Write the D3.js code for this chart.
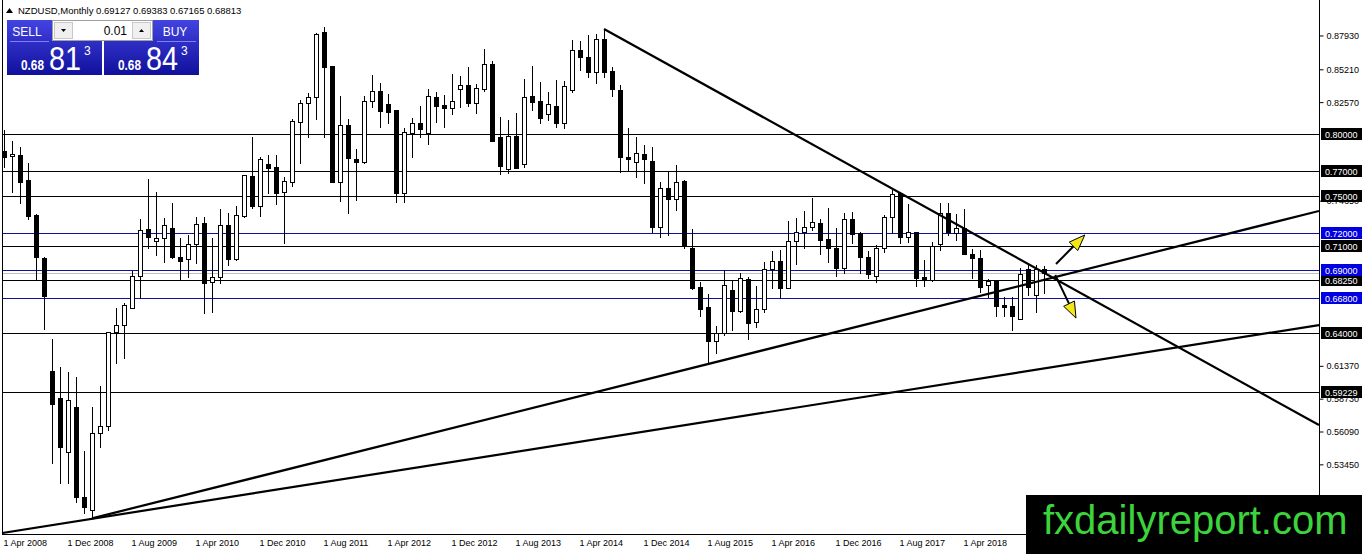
<!DOCTYPE html>
<html>
<head>
<meta charset="utf-8">
<script src="https://cdnjs.cloudflare.com/ajax/libs/d3/7.8.5/d3.min.js"></script>
<style>
body { margin: 0; background: #fff; overflow: hidden; }
svg { display: block; font-family: "Liberation Sans", Arial, sans-serif; }
</style>
</head>
<body>
<svg id="chart" width="1362" height="554"></svg>
<script>
// NZDUSD monthly candles, Apr 2008 .. Feb 2019 (index 0 = Apr 2008)
const opens = [0.7863,0.7820,0.7828,0.7627,0.7346,0.7000,0.6091,0.5877,0.5442,0.5804,
0.5081,0.4974,0.5590,0.5649,0.6407,0.6461,0.6600,0.6855,0.7233,0.7139,
0.7158,0.7239,0.7005,0.6989,0.7110,0.7284,0.6804,0.6845,0.7265,0.6989,
0.7340,0.7659,0.7420,0.7756,0.7734,0.7528,0.7613,0.8096,0.8244,0.8292,
0.8819,0.8546,0.7613,0.8069,0.7796,0.7774,0.8262,0.8342,0.8238,0.8190,
0.7525,0.8002,0.8083,0.8002,0.8292,0.8230,0.8203,0.8356,0.8388,0.8244,
0.8358,0.8557,0.7970,0.7713,0.7983,0.7756,0.8302,0.8262,0.8155,0.8222,
0.8083,0.8350,0.8672,0.8618,0.8498,0.8761,0.8503,0.8350,0.7814,0.7769,
0.7834,0.7780,0.7251,0.7560,0.7472,0.7619,0.7083,0.6769,0.6608,0.6335,
0.6394,0.6743,0.6576,0.6831,0.6488,0.6587,0.6909,0.6976,0.6761,0.7137,
0.7206,0.7247,0.7279,0.7150,0.7078,0.6917,0.7311,0.7198,0.7005,0.6858,
0.7078,0.7327,0.7520,0.7171,0.7211,0.6845,0.6823,0.7110,0.7359,0.7203,
0.7239,0.7032,0.6997,0.6783,0.6817,0.6622,0.6614,0.6507,0.6909,0.6702,
0.69127];

const highs = [0.8029,0.7943,0.7895,0.7766,0.7355,0.7005,0.6349,0.6126,0.6086,0.6041,
0.5448,0.5804,0.5973,0.6407,0.6600,0.6640,0.6898,0.7316,0.7635,0.7533,
0.7319,0.7444,0.7158,0.7185,0.7332,0.7327,0.7158,0.7394,0.7364,0.7418,
0.7667,0.7975,0.7814,0.7828,0.7828,0.7653,0.8117,0.8270,0.8324,0.8806,
0.8855,0.8546,0.8302,0.8115,0.7876,0.8302,0.8471,0.8409,0.8318,0.8190,
0.8047,0.8123,0.8222,0.8358,0.8337,0.8310,0.8479,0.8463,0.8533,0.8399,
0.8680,0.8584,0.8131,0.8109,0.8163,0.8437,0.8543,0.8417,0.8337,0.8431,
0.8423,0.8753,0.8745,0.8793,0.8801,0.8839,0.8538,0.8391,0.8043,0.7975,
0.7908,0.7895,0.7613,0.7694,0.7748,0.7627,0.7231,0.6809,0.6710,0.6453,
0.6903,0.6823,0.6877,0.6849,0.6775,0.6970,0.7058,0.7064,0.7297,0.7319,
0.7378,0.7480,0.7311,0.7399,0.7239,0.7359,0.7372,0.7211,0.7058,0.7104,
0.7346,0.7547,0.7528,0.7434,0.7211,0.6984,0.7131,0.7444,0.7439,0.7354,
0.7391,0.7070,0.7064,0.6829,0.6823,0.6689,0.6689,0.6917,0.6944,0.6944,
0.69383];

const lows = [0.7734,0.7533,0.7444,0.7311,0.6823,0.6429,0.5349,0.5188,0.5193,0.5040,
0.4952,0.4907,0.5483,0.5617,0.6153,0.6193,0.6595,0.6676,0.7078,0.7024,
0.6970,0.6997,0.6823,0.6849,0.6962,0.6555,0.6568,0.6796,0.6944,0.6984,
0.7327,0.7399,0.7340,0.7520,0.7432,0.7118,0.7581,0.7761,0.7975,0.8115,
0.7970,0.7608,0.7458,0.7364,0.7466,0.7761,0.8211,0.8055,0.8088,0.7452,
0.7452,0.7809,0.7970,0.7914,0.8096,0.8051,0.8155,0.8211,0.8224,0.8163,
0.8345,0.7940,0.7675,0.7686,0.7721,0.7734,0.8190,0.8083,0.8109,0.8055,
0.8047,0.8337,0.8511,0.8453,0.8404,0.8457,0.8302,0.7694,0.7707,0.7653,
0.7605,0.7211,0.7171,0.7185,0.7386,0.7078,0.6748,0.6531,0.6153,0.6233,
0.6381,0.6421,0.6568,0.6346,0.6443,0.6568,0.6756,0.6676,0.6756,0.6949,
0.7078,0.7225,0.7032,0.6970,0.6855,0.6882,0.7123,0.6882,0.6837,0.6809,
0.7050,0.7198,0.7123,0.7131,0.6775,0.6775,0.6817,0.7064,0.7185,0.7145,
0.7030,0.6841,0.6729,0.6684,0.6533,0.6531,0.6421,0.6507,0.6700,0.6568,
0.67165];

const closes = [0.7814,0.7836,0.7613,0.7340,0.7005,0.6697,0.5824,0.5483,0.5858,0.5081,
0.5000,0.5590,0.5649,0.6407,0.6461,0.6622,0.6855,0.7225,0.7171,0.7163,
0.7263,0.7010,0.6978,0.7110,0.7273,0.6801,0.6845,0.7265,0.6989,0.7346,
0.7667,0.7420,0.7796,0.7726,0.7525,0.7619,0.8104,0.8244,0.8292,0.8801,
0.8538,0.7608,0.8067,0.7801,0.7774,0.8262,0.8342,0.8184,0.8176,0.7525,
0.8010,0.8083,0.8035,0.8302,0.8224,0.8203,0.8262,0.8388,0.8244,0.8364,
0.8557,0.7940,0.7740,0.7983,0.7721,0.8297,0.8256,0.8128,0.8236,0.8083,
0.8383,0.8672,0.8613,0.8498,0.8761,0.8498,0.8356,0.7809,0.7793,0.7842,
0.7793,0.7251,0.7560,0.7472,0.7613,0.7099,0.6761,0.6587,0.6335,0.6394,
0.6780,0.6576,0.6836,0.6480,0.6587,0.6909,0.6976,0.6761,0.7137,0.7206,
0.7247,0.7287,0.7145,0.7083,0.6917,0.7311,0.7191,0.7010,0.6869,0.7078,
0.7327,0.7514,0.7171,0.7211,0.6841,0.6823,0.7096,0.7359,0.7211,0.7239,
0.7030,0.6997,0.6764,0.6815,0.6616,0.6608,0.6531,0.6869,0.6770,0.6909,
0.68813];

const xTickIdx = [0, 8, 16, 24, 32, 40, 48, 56, 64, 72, 80, 88, 96, 104, 112, 120];
const xTickLabels = ["1 Apr 2008", "1 Dec 2008", "1 Aug 2009", "1 Apr 2010", "1 Dec 2010",
    "1 Aug 2011", "1 Apr 2012", "1 Dec 2012", "1 Aug 2013", "1 Apr 2014", "1 Dec 2014",
    "1 Aug 2015", "1 Apr 2016", "1 Dec 2016", "1 Aug 2017", "1 Apr 2018"];

const yTicks = [0.87930, 0.85210, 0.82570, 0.74650, 0.61370, 0.58730, 0.56090, 0.53450, 0.50810];

const blackLevels = [0.80000, 0.77000, 0.75000, 0.71000, 0.68250, 0.64000, 0.59229];
const blueLevels = [0.72000, 0.69000, 0.66800];

// trend lines as [candle index, price] pairs
const trendDown = [[75, 0.8841], [164.375, 0.5657]];
const trendUp = [[11, 0.4907], [164.375, 0.7378]];
const trendLow = [[-0.25, 0.4789], [164.375, 0.6461]];
const arrowUp = [[131.5, 0.6952], [135.1, 0.7185]];
const arrowDown = [[131.4, 0.6863], [134.0, 0.6517]];

const symbol = "NZDUSD,Monthly";
const lotSize = "0.01";
const sellQuote = ["0.68", "81", "3"];
const buyQuote = ["0.68", "84", "3"];

const plot = { left: 2, right: 1319, top: 0, bottom: 534 };

const svg = d3.select("#chart");

const x = d3.scaleLinear().domain([-0.25, 164.375]).range([plot.left, plot.right]);
const y = d3.scaleLinear().domain([0.4781, 0.9058]).range([plot.bottom, 2]);

const defs = svg.append("defs");
defs.append("clipPath").attr("id", "plotclip")
    .append("rect")
    .attr("x", plot.left).attr("y", plot.top)
    .attr("width", plot.right - plot.left).attr("height", plot.bottom - plot.top);

const px = v => Math.round(y(v)) + 0.5;

// horizontal levels
const levelG = svg.append("g").attr("clip-path", "url(#plotclip)");
blackLevels.forEach(v => {
    levelG.append("line")
        .attr("x1", plot.left).attr("x2", plot.right)
        .attr("y1", px(v)).attr("y2", px(v))
        .attr("stroke", "#000").attr("stroke-width", 1);
});
blueLevels.forEach(v => {
    levelG.append("line")
        .attr("x1", plot.left).attr("x2", plot.right)
        .attr("y1", px(v)).attr("y2", px(v))
        .attr("stroke", "#1010a0").attr("stroke-width", 1);
});
// bid line
const lastClose = closes[closes.length - 1];
levelG.append("line")
    .attr("x1", plot.left).attr("x2", plot.right)
    .attr("y1", px(lastClose)).attr("y2", px(lastClose))
    .attr("stroke", "#c0c0c0").attr("stroke-width", 1);

// candles
const candles = opens.map((o, i) => ({ i, o, h: highs[i], l: lows[i], c: closes[i] }));
const cg = svg.append("g").attr("clip-path", "url(#plotclip)");

cg.selectAll(".wick").data(candles).enter().append("line")
    .attr("class", "wick")
    .attr("x1", d => Math.round(x(d.i)) + 0.5)
    .attr("x2", d => Math.round(x(d.i)) + 0.5)
    .attr("y1", d => Math.round(y(d.h)))
    .attr("y2", d => Math.round(y(d.l)) + 1)
    .attr("stroke", "#000").attr("stroke-width", 1);

cg.selectAll(".body").data(candles).enter().append("rect")
    .attr("class", "body")
    .attr("x", d => Math.round(x(d.i)) - 1.5)
    .attr("y", d => Math.round(y(Math.max(d.o, d.c))) + 0.5)
    .attr("width", 4)
    .attr("height", d => Math.max(1, Math.round(y(Math.min(d.o, d.c))) - Math.round(y(Math.max(d.o, d.c)))))
    .attr("fill", d => d.c >= d.o ? "#fff" : "#000")
    .attr("stroke", "#000").attr("stroke-width", 1);

// trend lines
const line = d3.line().x(d => x(d[0])).y(d => y(d[1]));
const tg = svg.append("g").attr("clip-path", "url(#plotclip)");
[trendDown, trendUp, trendLow].forEach(t => {
    tg.append("path").datum(t)
        .attr("d", line)
        .attr("fill", "none")
        .attr("stroke", "#000")
        .attr("stroke-width", 2.2);
});

// arrows
function drawArrow(a) {
    const x0 = x(a[0][0]), y0 = y(a[0][1]);
    const x1 = x(a[1][0]), y1 = y(a[1][1]);
    const len = Math.hypot(x1 - x0, y1 - y0);
    const ux = (x1 - x0) / len, uy = (y1 - y0) / len;
    const hl = 16, hw = 12;
    const bx = x1 - ux * hl, by = y1 - uy * hl;
    tg.append("line")
        .attr("x1", x0).attr("y1", y0).attr("x2", bx).attr("y2", by)
        .attr("stroke", "#000").attr("stroke-width", 2);
    const pts = [[x1, y1], [bx - uy * hw / 2, by + ux * hw / 2], [bx + uy * hw / 2, by - ux * hw / 2]];
    tg.append("polygon")
        .attr("points", pts.map(p => p.join(",")).join(" "))
        .attr("fill", "#f5e618")
        .attr("stroke", "#000").attr("stroke-width", 1);
}
drawArrow(arrowUp);
drawArrow(arrowDown);

// frame and axes
svg.append("line").attr("x1", plot.left + 0.5).attr("x2", plot.left + 0.5)
    .attr("y1", 0).attr("y2", plot.bottom).attr("stroke", "#000");
svg.append("line").attr("x1", plot.right + 0.5).attr("x2", plot.right + 0.5)
    .attr("y1", 0).attr("y2", plot.bottom + 0.5).attr("stroke", "#000");
svg.append("line").attr("x1", plot.left).attr("x2", plot.right + 1)
    .attr("y1", plot.bottom + 0.5).attr("y2", plot.bottom + 0.5).attr("stroke", "#000");

// right axis ticks
const yAxis = d3.axisRight(y)
    .tickValues(yTicks)
    .tickSize(4)
    .tickPadding(3)
    .tickFormat(d => d.toFixed(5));
const ya = svg.append("g")
    .attr("transform", `translate(${plot.right + 0.5},0.5)`)
    .call(yAxis);
ya.select(".domain").remove();
ya.selectAll("text").attr("font-size", 9).attr("fill", "#000")
    .attr("font-family", "'Liberation Sans', Arial, sans-serif");
ya.selectAll("line").attr("stroke", "#000");

// bottom axis labels
const xAxis = d3.axisBottom(x)
    .tickValues(xTickIdx)
    .tickSize(0)
    .tickPadding(5)
    .tickFormat((d, i) => xTickLabels[i]);
const xa = svg.append("g")
    .attr("transform", `translate(0,${plot.bottom + 1})`)
    .call(xAxis);
xa.select(".domain").remove();
xa.selectAll("text").attr("font-size", 9).attr("fill", "#000")
    .attr("text-anchor", "start").attr("dx", -1)
    .attr("font-family", "'Liberation Sans', Arial, sans-serif");

// level price boxes
function levelBox(v, fill) {
    const yy = Math.round(y(v));
    svg.append("rect").attr("x", plot.right + 2).attr("y", yy - 6)
        .attr("width", 1362 - plot.right - 2).attr("height", 12).attr("fill", fill);
    svg.append("text").attr("x", plot.right + 6).attr("y", yy + 3.5)
        .attr("font-size", 9).attr("fill", "#fff").text(v.toFixed(5));
}
blackLevels.forEach(v => levelBox(v, "#000"));
blueLevels.forEach(v => levelBox(v, "#0000e0"));

// header
svg.append("path").attr("d", "M6,13 L9.5,8 L13,13 Z").attr("fill", "#000");
svg.append("text").attr("x", 18).attr("y", 14).attr("font-size", 9.5).attr("fill", "#000")
    .text(`${symbol}  ${opens[opens.length - 1].toFixed(5)} ${highs[highs.length - 1].toFixed(5)} ${lows[lows.length - 1].toFixed(5)} ${lastClose.toFixed(5)}`);

// one-click trading panel
const grad = defs.append("linearGradient").attr("id", "bluegrad")
    .attr("x1", 0).attr("y1", 0).attr("x2", 0).attr("y2", 1);
grad.append("stop").attr("offset", "0%").attr("stop-color", "#4343e2");
grad.append("stop").attr("offset", "100%").attr("stop-color", "#10109c");

const panel = svg.append("g");
panel.append("rect").attr("x", 7).attr("y", 20).attr("width", 95).attr("height", 55).attr("fill", "url(#bluegrad)");
panel.append("rect").attr("x", 104).attr("y", 20).attr("width", 95).attr("height", 55).attr("fill", "url(#bluegrad)");
panel.append("line").attr("x1", 10).attr("x2", 49).attr("y1", 41.5).attr("y2", 41.5).attr("stroke", "#8080f0");
panel.append("line").attr("x1", 157).attr("x2", 196).attr("y1", 41.5).attr("y2", 41.5).attr("stroke", "#8080f0");
panel.append("text").attr("x", 27).attr("y", 35.5).attr("text-anchor", "middle")
    .attr("font-size", 12).attr("fill", "#fff").text("SELL");
panel.append("text").attr("x", 175).attr("y", 35.5).attr("text-anchor", "middle")
    .attr("font-size", 12).attr("fill", "#fff").text("BUY");

// lot spinner
panel.append("rect").attr("x", 52.5).attr("y", 20.5).attr("width", 100).attr("height", 20)
    .attr("fill", "#fff").attr("stroke", "#a0a0a0");
panel.append("rect").attr("x", 54.5).attr("y", 22.5).attr("width", 18).attr("height", 16)
    .attr("fill", "#f0f0f0").attr("stroke", "#c8c8c8");
panel.append("rect").attr("x", 132.5).attr("y", 22.5).attr("width", 18).attr("height", 16)
    .attr("fill", "#f0f0f0").attr("stroke", "#c8c8c8");
panel.append("path").attr("d", "M61,29 L66,29 L63.5,32 Z").attr("fill", "#000");
panel.append("path").attr("d", "M139,32 L144,32 L141.5,29 Z").attr("fill", "#000");
panel.append("text").attr("x", 127).attr("y", 35).attr("text-anchor", "end")
    .attr("font-size", 12).attr("fill", "#000").text(lotSize);

function quote(q, x0) {
    panel.append("text").attr("x", x0).attr("y", 70).attr("font-size", 14)
        .attr("font-weight", "bold").attr("fill", "#fff")
        .attr("textLength", 23).attr("lengthAdjust", "spacingAndGlyphs").text(q[0]);
    panel.append("text").attr("x", x0 + 28).attr("y", 70).attr("font-size", 33)
        .attr("fill", "#fff")
        .attr("textLength", 32).attr("lengthAdjust", "spacingAndGlyphs").text(q[1]);
    panel.append("text").attr("x", x0 + 63).attr("y", 55).attr("font-size", 12)
        .attr("fill", "#fff").text(q[2]);
}
quote(sellQuote, 21);
quote(buyQuote, 118);

// watermark
svg.append("rect").attr("x", 1026).attr("y", 495).attr("width", 336).attr("height", 59).attr("fill", "#000");
svg.append("text").attr("x", 1043).attr("y", 534).attr("font-size", 40)
    .attr("fill", "#3cd43c").text("fxdailyreport.com");
</script>
</body>
</html>
